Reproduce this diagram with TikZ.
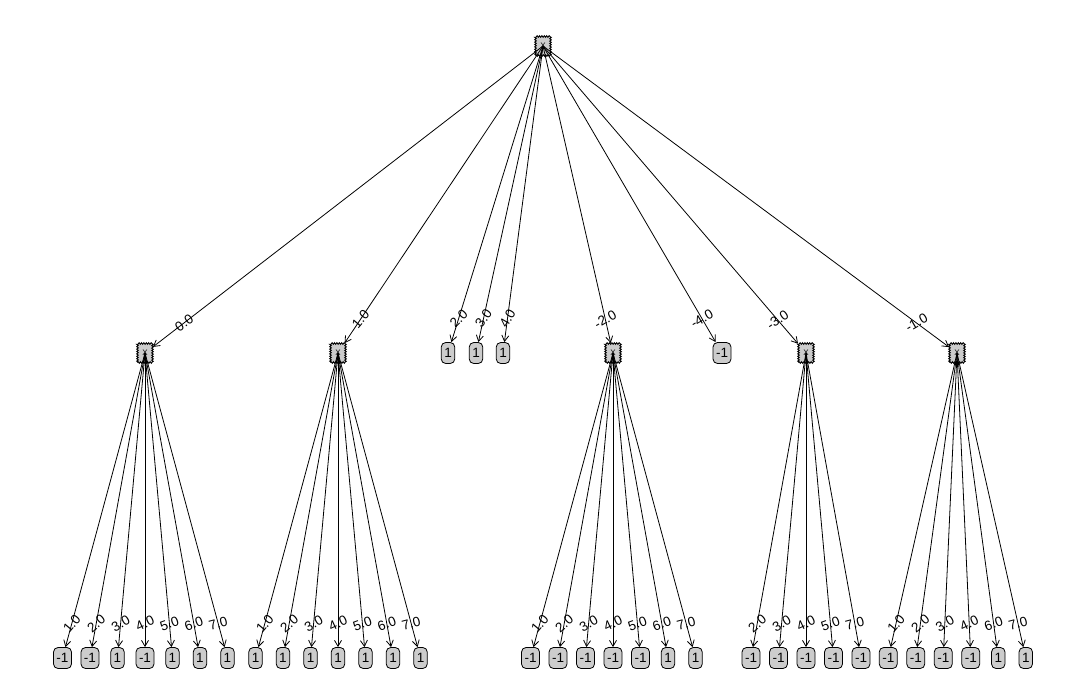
\documentclass[tikz,border=0pt]{standalone}
\usepackage{fontspec}
\setmainfont{Liberation Sans}
\usetikzlibrary{arrows.meta,decorations.pathmorphing}

\begin{document}
\begin{tikzpicture}[x=1pt, y=-1pt,
	split/.style={ rectangle, draw, line width=0.9pt, fill=gray!40, minimum width=15pt, minimum height=19pt, inner sep=0pt, font=\fontsize{8}{8}\selectfont, decorate, decoration={zigzag, segment length=2.4pt, amplitude=0.8pt} },
	leaf/.style={ rectangle, rounded corners=4.5pt, draw, line width=0.8pt, fill=gray!40, minimum height=21pt, minimum width=12pt, inner xsep=3pt, inner ysep=1pt, font=\fontsize{13.5}{13.5}\selectfont },
	edge/.style={ -{Straight Barb[length=6pt,width=7pt]}, line width=0.8pt },
	elab/.style={ pos=0.92, inner sep=0pt, font=\fontsize{13.5}{13.5}\selectfont }
]
\useasboundingbox (0,0) rectangle (1078,696);

\node[split] at (543,46) (r) {X};

% first level
\node[split] at (145,353) (s0) {X};
\node[split] at (338,353) (s1) {X};
\node[leaf] at (448,353) (l2) {1};
\node[leaf] at (476,353) (l3) {1};
\node[leaf] at (503,353) (l4) {1};
\node[split] at (613,353) (sm2) {X};
\node[leaf] at (722,353) (lm4) {-1};
\node[split] at (806,353) (sm3) {X};
\node[split] at (957,353) (sm1) {X};

\draw[edge] (r.center) to node[elab, rotate=35] {0.0} (s0);
\draw[edge] (r.center) to node[elab, rotate=50] {1.0} (s1);
\draw[edge] (r.center) to node[elab, rotate=45] {2.0} (l2);
\draw[edge] (r.center) to node[elab, rotate=55] {3.0} (l3);
\draw[edge] (r.center) to node[elab, rotate=60] {4.0} (l4);
\draw[edge] (r.center) to node[elab, rotate=30] {-2.0} (sm2);
\draw[edge] (r.center) to node[elab, rotate=30] {-4.0} (lm4);
\draw[edge] (r.center) to node[elab, rotate=35] {-3.0} (sm3);
\draw[edge] (r.center) to node[elab, rotate=30] {-1.0} (sm1);

\begin{scope}[xshift=145]
	\node[leaf] at (-82.5,658) (a1) {-1};
	\node[leaf] at (-55,658) (a2) {-1};
	\node[leaf] at (-27.5,658) (a3) {1};
	\node[leaf] at (0,658) (a4) {-1};
	\node[leaf] at (27.5,658) (a5) {1};
	\node[leaf] at (55,658) (a6) {1};
	\node[leaf] at (82.5,658) (a7) {1};
	\draw[edge] (s0.center) to node[elab, rotate=50] {1.0} (a1);
	\draw[edge] (s0.center) to node[elab, rotate=40] {2.0} (a2);
	\draw[edge] (s0.center) to node[elab, rotate=30] {3.0} (a3);
	\draw[edge] (s0.center) to node[elab, rotate=25] {4.0} (a4);
	\draw[edge] (s0.center) to node[elab, rotate=20] {5.0} (a5);
	\draw[edge] (s0.center) to node[elab, rotate=20] {6.0} (a6);
	\draw[edge] (s0.center) to node[elab, rotate=15] {7.0} (a7);
\end{scope}

\begin{scope}[xshift=338]
	\node[leaf] at (-82.5,658) (b1) {1};
	\node[leaf] at (-55,658) (b2) {1};
	\node[leaf] at (-27.5,658) (b3) {1};
	\node[leaf] at (0,658) (b4) {1};
	\node[leaf] at (27.5,658) (b5) {1};
	\node[leaf] at (55,658) (b6) {1};
	\node[leaf] at (82.5,658) (b7) {1};
	\draw[edge] (s1.center) to node[elab, rotate=50] {1.0} (b1);
	\draw[edge] (s1.center) to node[elab, rotate=40] {2.0} (b2);
	\draw[edge] (s1.center) to node[elab, rotate=30] {3.0} (b3);
	\draw[edge] (s1.center) to node[elab, rotate=25] {4.0} (b4);
	\draw[edge] (s1.center) to node[elab, rotate=20] {5.0} (b5);
	\draw[edge] (s1.center) to node[elab, rotate=20] {6.0} (b6);
	\draw[edge] (s1.center) to node[elab, rotate=15] {7.0} (b7);
\end{scope}

\begin{scope}[xshift=613]
	\node[leaf] at (-82.5,658) (c1) {-1};
	\node[leaf] at (-55,658) (c2) {-1};
	\node[leaf] at (-27.5,658) (c3) {-1};
	\node[leaf] at (0,658) (c4) {-1};
	\node[leaf] at (27.5,658) (c5) {-1};
	\node[leaf] at (55,658) (c6) {1};
	\node[leaf] at (82.5,658) (c7) {1};
	\draw[edge] (sm2.center) to node[elab, rotate=50] {1.0} (c1);
	\draw[edge] (sm2.center) to node[elab, rotate=40] {2.0} (c2);
	\draw[edge] (sm2.center) to node[elab, rotate=30] {3.0} (c3);
	\draw[edge] (sm2.center) to node[elab, rotate=25] {4.0} (c4);
	\draw[edge] (sm2.center) to node[elab, rotate=20] {5.0} (c5);
	\draw[edge] (sm2.center) to node[elab, rotate=20] {6.0} (c6);
	\draw[edge] (sm2.center) to node[elab, rotate=15] {7.0} (c7);
\end{scope}

\begin{scope}[xshift=806]
	\node[leaf] at (-55,658) (d2) {-1};
	\node[leaf] at (-27.5,658) (d3) {-1};
	\node[leaf] at (0,658) (d4) {-1};
	\node[leaf] at (27.5,658) (d5) {-1};
	\node[leaf] at (55,658) (d7) {-1};
	\draw[edge] (sm3.center) to node[elab, rotate=40] {2.0} (d2);
	\draw[edge] (sm3.center) to node[elab, rotate=30] {3.0} (d3);
	\draw[edge] (sm3.center) to node[elab, rotate=25] {4.0} (d4);
	\draw[edge] (sm3.center) to node[elab, rotate=20] {5.0} (d5);
	\draw[edge] (sm3.center) to node[elab, rotate=15] {7.0} (d7);
\end{scope}

\begin{scope}[xshift=957]
	\node[leaf] at (-68.75,658) (e1) {-1};
	\node[leaf] at (-41.25,658) (e2) {-1};
	\node[leaf] at (-13.75,658) (e3) {-1};
	\node[leaf] at (13.75,658) (e4) {-1};
	\node[leaf] at (41.25,658) (e6) {1};
	\node[leaf] at (68.75,658) (e7) {1};
	\draw[edge] (sm1.center) to node[elab, rotate=50] {1.0} (e1);
	\draw[edge] (sm1.center) to node[elab, rotate=40] {2.0} (e2);
	\draw[edge] (sm1.center) to node[elab, rotate=30] {3.0} (e3);
	\draw[edge] (sm1.center) to node[elab, rotate=25] {4.0} (e4);
	\draw[edge] (sm1.center) to node[elab, rotate=20] {6.0} (e6);
	\draw[edge] (sm1.center) to node[elab, rotate=15] {7.0} (e7);
\end{scope}

\end{tikzpicture}
\end{document}
